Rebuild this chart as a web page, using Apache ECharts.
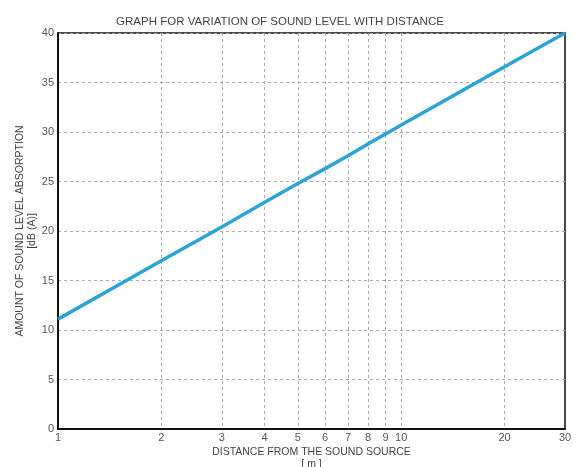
<!DOCTYPE html>
<html>
<head>
<meta charset="utf-8">
<script src="https://cdn.jsdelivr.net/npm/echarts@6/dist/echarts.min.js"></script>
<style>
  html, body {margin: 0; padding: 0; background: #fff;}
  #chart {width: 579px; height: 467px;}
</style>
</head>
<body>
<div id="chart"></div>
<script>
// distance from source [m] and absorption [dB(A)]
var distance = [1, 2, 3, 4, 5, 6, 7, 8, 9, 10, 20, 30];
var level = [11.1, 17.0, 20.4, 22.9, 24.8, 26.3, 27.6, 28.8, 29.8, 30.7, 36.6, 40.0];
var xTicks = [1, 2, 3, 4, 5, 6, 7, 8, 9, 10, 20, 30];
var xGrid = [2, 3, 4, 5, 6, 7, 8, 9, 10, 20];

var chart = echarts.init(document.getElementById('chart'), null, {renderer: 'canvas'});

var font = 'Liberation Sans, Arial, sans-serif';
var points = [];
for (var i = 0; i < distance.length; i++) {
  points.push([distance[i], level[i]]);
}

chart.setOption({
  animation: false,
  title: {
    text: 'GRAPH FOR VARIATION OF SOUND LEVEL WITH DISTANCE',
    left: 275, top: 11, textAlign: 'center',
    textStyle: {fontFamily: font, fontSize: 11.5, fontWeight: 'normal', color: '#444'}
  },
  grid: {
    left: 58, right: 14, top: 33, bottom: 38,
    outerBoundsMode: 'none', containLabel: false,
    show: true, borderColor: '#111', borderWidth: 1.5
  },
  xAxis: {
    type: 'log', logBase: 10, min: 1, max: 30,
    name: 'DISTANCE FROM THE SOUND SOURCE\n[ m ]',
    nameLocation: 'middle', nameGap: 17, nameMoveOverlap: false,
    nameTextStyle: {fontFamily: font, fontSize: 10.5, color: '#444', lineHeight: 12},
    axisLine: {lineStyle: {color: '#111', width: 2}},
    axisTick: {show: false, customValues: xGrid},
    axisLabel: {customValues: xTicks, fontFamily: font, fontSize: 11, color: '#555', margin: 3},
    splitLine: {show: true, lineStyle: {color: '#aaa', type: [3, 3], width: 1}}
  },
  yAxis: {
    type: 'value', min: 0, max: 40, interval: 5,
    name: 'AMOUNT OF SOUND LEVEL ABSORPTION\n[dB (A)]',
    nameLocation: 'middle', nameGap: 20, nameRotate: 90, nameMoveOverlap: false,
    nameTextStyle: {fontFamily: font, fontSize: 10.5, color: '#444', lineHeight: 12},
    axisLine: {show: true, lineStyle: {color: '#111', width: 2}},
    axisTick: {show: false},
    axisLabel: {fontFamily: font, fontSize: 11, color: '#555', margin: 4},
    splitLine: {show: true, lineStyle: {color: '#aaa', type: [3, 3], width: 1}}
  },
  series: [{
    type: 'line',
    data: points,
    symbol: 'none',
    lineStyle: {color: '#2ba3d6', width: 3.5}
  }]
});
</script>
</body>
</html>
